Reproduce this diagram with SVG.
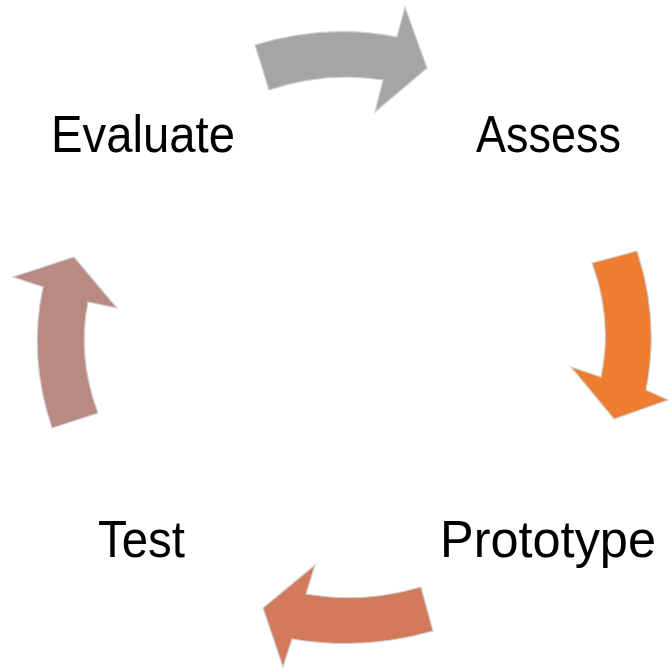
<svg xmlns="http://www.w3.org/2000/svg" width="669" height="670" viewBox="0 0 669 670">
<style>
.arrow{stroke:#d0d0d0;stroke-width:1.2;stroke-linejoin:miter}
.lbl{font-family:"Liberation Sans",Arial,sans-serif;font-size:52px;fill:#000}
</style>
<rect width="669" height="670" fill="#fff"/>
<g id="connectors">
<path id="arrow-evaluate-assess" class="arrow" fill="#A5A5A5" d="M255,45 Q326,23 397,37 L405,7 L427,68 L375,112 L383,80 Q326,71 269,90 Z"/>
<path id="arrow-assess-prototype" class="arrow" fill="#ED7D31" d="M592,263 L637,251 Q660,320 646,390 L668,400 L614,419 L571,367 L601,377 Q613,320 592,263 Z"/>
<path id="arrow-prototype-test" class="arrow" fill="#D37A5C" d="M421,587 Q363,604 306,594 L315,565 L263,608 L283,667 L292,639 Q364,651 433,631 Z"/>
<path id="arrow-test-evaluate" class="arrow" fill="#B88A82" d="M52,428 L98,413 Q77,357 88,302 L117,308 L74,257 L13,277 L43,287 Q28,357 52,428 Z"/>
</g>
<g id="node-evaluate"><text class="lbl" x="51" y="152" textLength="184" lengthAdjust="spacingAndGlyphs">Evaluate</text></g>
<g id="node-assess"><text class="lbl" x="476" y="152" textLength="145" lengthAdjust="spacingAndGlyphs">Assess</text></g>
<g id="node-prototype"><text class="lbl" x="440" y="557" textLength="216" lengthAdjust="spacingAndGlyphs">Prototype</text></g>
<g id="node-test"><text class="lbl" x="98" y="557" textLength="87" lengthAdjust="spacingAndGlyphs">Test</text></g>
</svg>
